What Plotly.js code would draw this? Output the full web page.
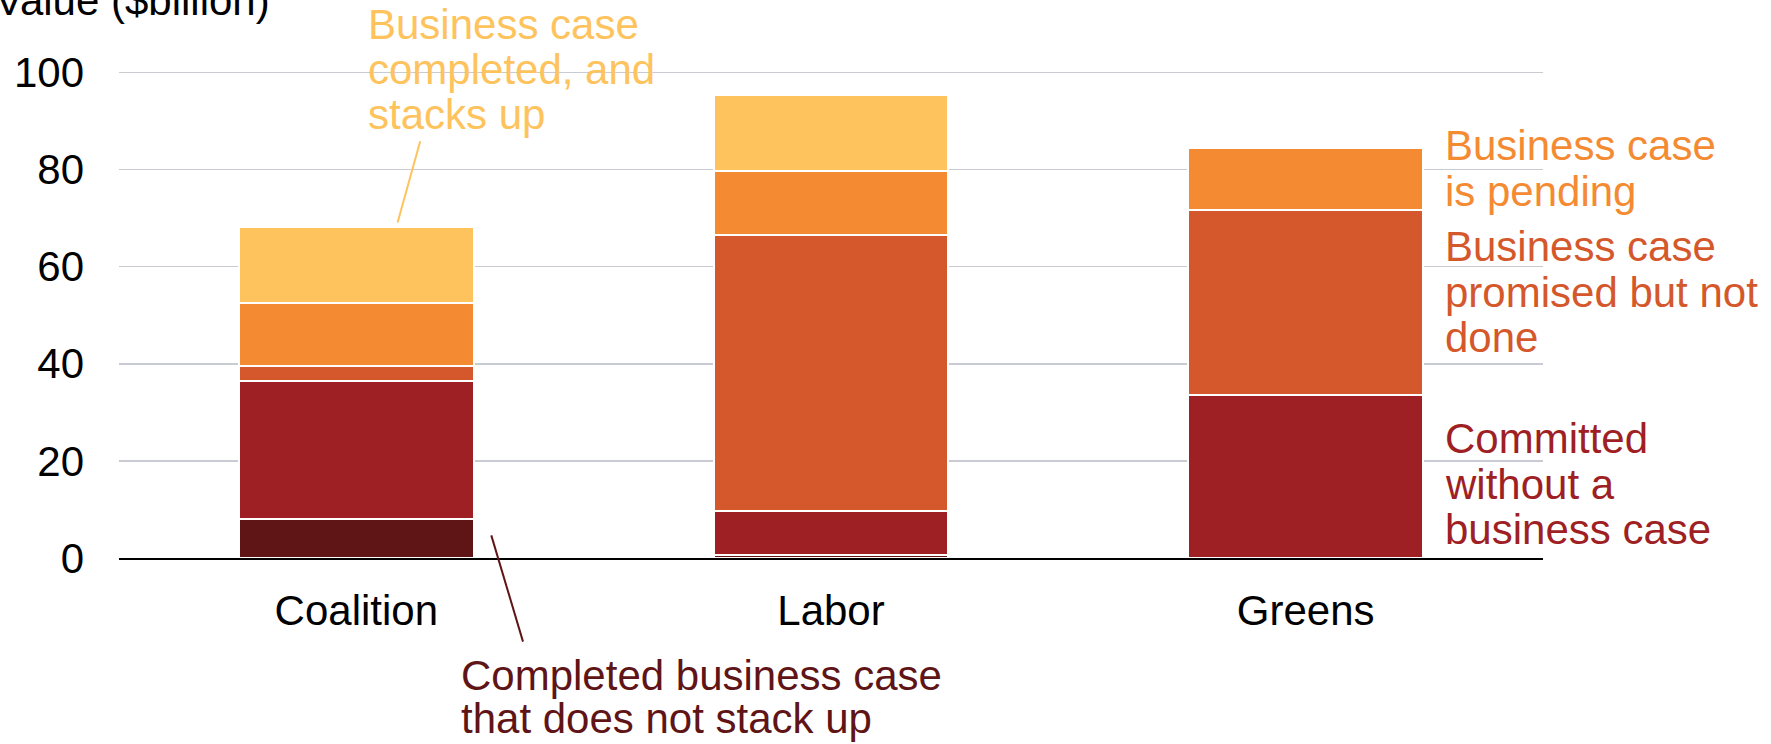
<!DOCTYPE html>
<html>
<head>
<meta charset="utf-8">
<script src="https://cdn.plot.ly/plotly-3.0.1.min.js"></script>
<style>html,body{margin:0;padding:0;background:#fff;}#chart{width:1771px;height:744px;}</style>
</head>
<body>
<div id="chart"></div>
<script>
// ---- data ----
const parties = ["Coalition", "Labor", "Greens"];
const completedNotStackUp = [8.0, 0.6, 0];
const committedNoCase = [28.5, 9.1, 33.5];
const promisedNotDone = [3.0, 56.9, 38.1];
const pending = [13.0, 13.1, 12.8];
const completedStacksUp = [15.7, 15.6, 0];
const yTicks = [0, 20, 40, 60, 80, 100];

const seriesNames = ["Completed business case that does not stack up", "Committed without a business case",
  "Business case promised but not done", "Business case is pending", "Business case completed, and stacks up"];
const seriesColors = ["#5f1416", "#9e1f24", "#d4582b", "#f48b33", "#fec35c"];
const seriesValues = [completedNotStackUp, committedNoCase, promisedNotDone, pending, completedStacksUp];

// label lines
const lblStacksUp = ["Business case", "completed, and", "stacks up"];
const lblPending = ["Business case", "is pending"];
const lblPromised = ["Business case", "promised but not", "done"];
const lblCommitted = ["Committed", "without a", "business case"];
const lblNotStack = ["Completed business case", "that does not stack up"];

// ---- layout geometry ----
const W = 1771, H = 744;
const M = {l: 119, r: 228, t: 70, b: 186};
const PW = W - M.l - M.r, PH = H - M.t - M.b;
const xp = px => (px - M.l) / PW;
const yp = py => (H - M.b - py) / PH;
const FONT = '"Liberation Sans", Arial, sans-serif';
const FS = 42;

const traces = seriesValues.map((vals, i) => ({
  type: 'bar', x: parties, y: vals, name: seriesNames[i],
  marker: {color: seriesColors[i], line: {color: '#ffffff', width: 2}},
  hoverinfo: 'skip'
}));

const annotations = [];
function addLabel(lines, left, firstCenter, pitch, color) {
  lines.forEach((t, k) => annotations.push({
    xref: 'paper', yref: 'paper', x: xp(left - 4), y: yp(firstCenter + k * pitch),
    xanchor: 'left', yanchor: 'middle', showarrow: false, text: t,
    font: {family: FONT, size: FS, color: color}
  }));
}
addLabel(lblStacksUp, 370, 24, 45.5, seriesColors[4]);
addLabel(lblPending, 1447, 146, 45.5, seriesColors[3]);
addLabel(lblPromised, 1447, 246.5, 45.5, seriesColors[2]);
addLabel(lblCommitted, 1447, 438.5, 45.5, seriesColors[1]);
addLabel(lblNotStack, 463, 675.5, 43, seriesColors[0]);

// y axis title (horizontal, at top-left)
annotations.push({
  xref: 'paper', yref: 'paper', x: xp(272), y: yp(1), xanchor: 'right', yanchor: 'middle',
  showarrow: false, text: 'Value ($billion)', font: {family: FONT, size: FS, color: '#000'}
});

const shapes = [
  // white masks hiding gridlines behind labels
  {type: 'rect', xref: 'paper', yref: 'paper', x0: xp(360), x1: xp(700), y0: yp(66), y1: yp(80),
   fillcolor: '#ffffff', line: {width: 0}, layer: 'between'},
  {type: 'rect', xref: 'paper', yref: 'paper', x0: xp(1437), x1: xp(1545), y0: yp(120), y1: yp(552),
   fillcolor: '#ffffff', line: {width: 0}, layer: 'between'},
  // leader lines
  {type: 'line', xref: 'paper', yref: 'paper', x0: xp(397.6), y0: yp(222.5), x1: xp(420.2), y1: yp(141.2),
   line: {color: seriesColors[4], width: 2}},
  {type: 'line', xref: 'paper', yref: 'paper', x0: xp(491.3), y0: yp(535.4), x1: xp(523), y1: yp(641.6),
   line: {color: seriesColors[0], width: 2}}
];

const layout = {
  width: W, height: H, margin: M,
  paper_bgcolor: '#ffffff', plot_bgcolor: '#ffffff',
  barmode: 'stack', bargap: 0.505, showlegend: false,
  font: {family: FONT, size: FS, color: '#000'},
  xaxis: {
    type: 'category', showgrid: false, showline: true, linecolor: '#000000', linewidth: 2,
    ticks: '', ticklabelstandoff: 15, tickfont: {family: FONT, size: FS, color: '#000'}
  },
  yaxis: {
    range: [0, 100.5], tickvals: yTicks, ticktext: yTicks.map(String), showgrid: true,
    gridcolor: '#c8cbd1', gridwidth: 1.6, zeroline: false, showline: false, ticks: '',
    ticklabelstandoff: 34, tickfont: {family: FONT, size: FS, color: '#000'}
  },
  annotations: annotations, shapes: shapes
};

Plotly.newPlot('chart', traces, layout, {displayModeBar: false, staticPlot: true});
</script>
</body>
</html>
